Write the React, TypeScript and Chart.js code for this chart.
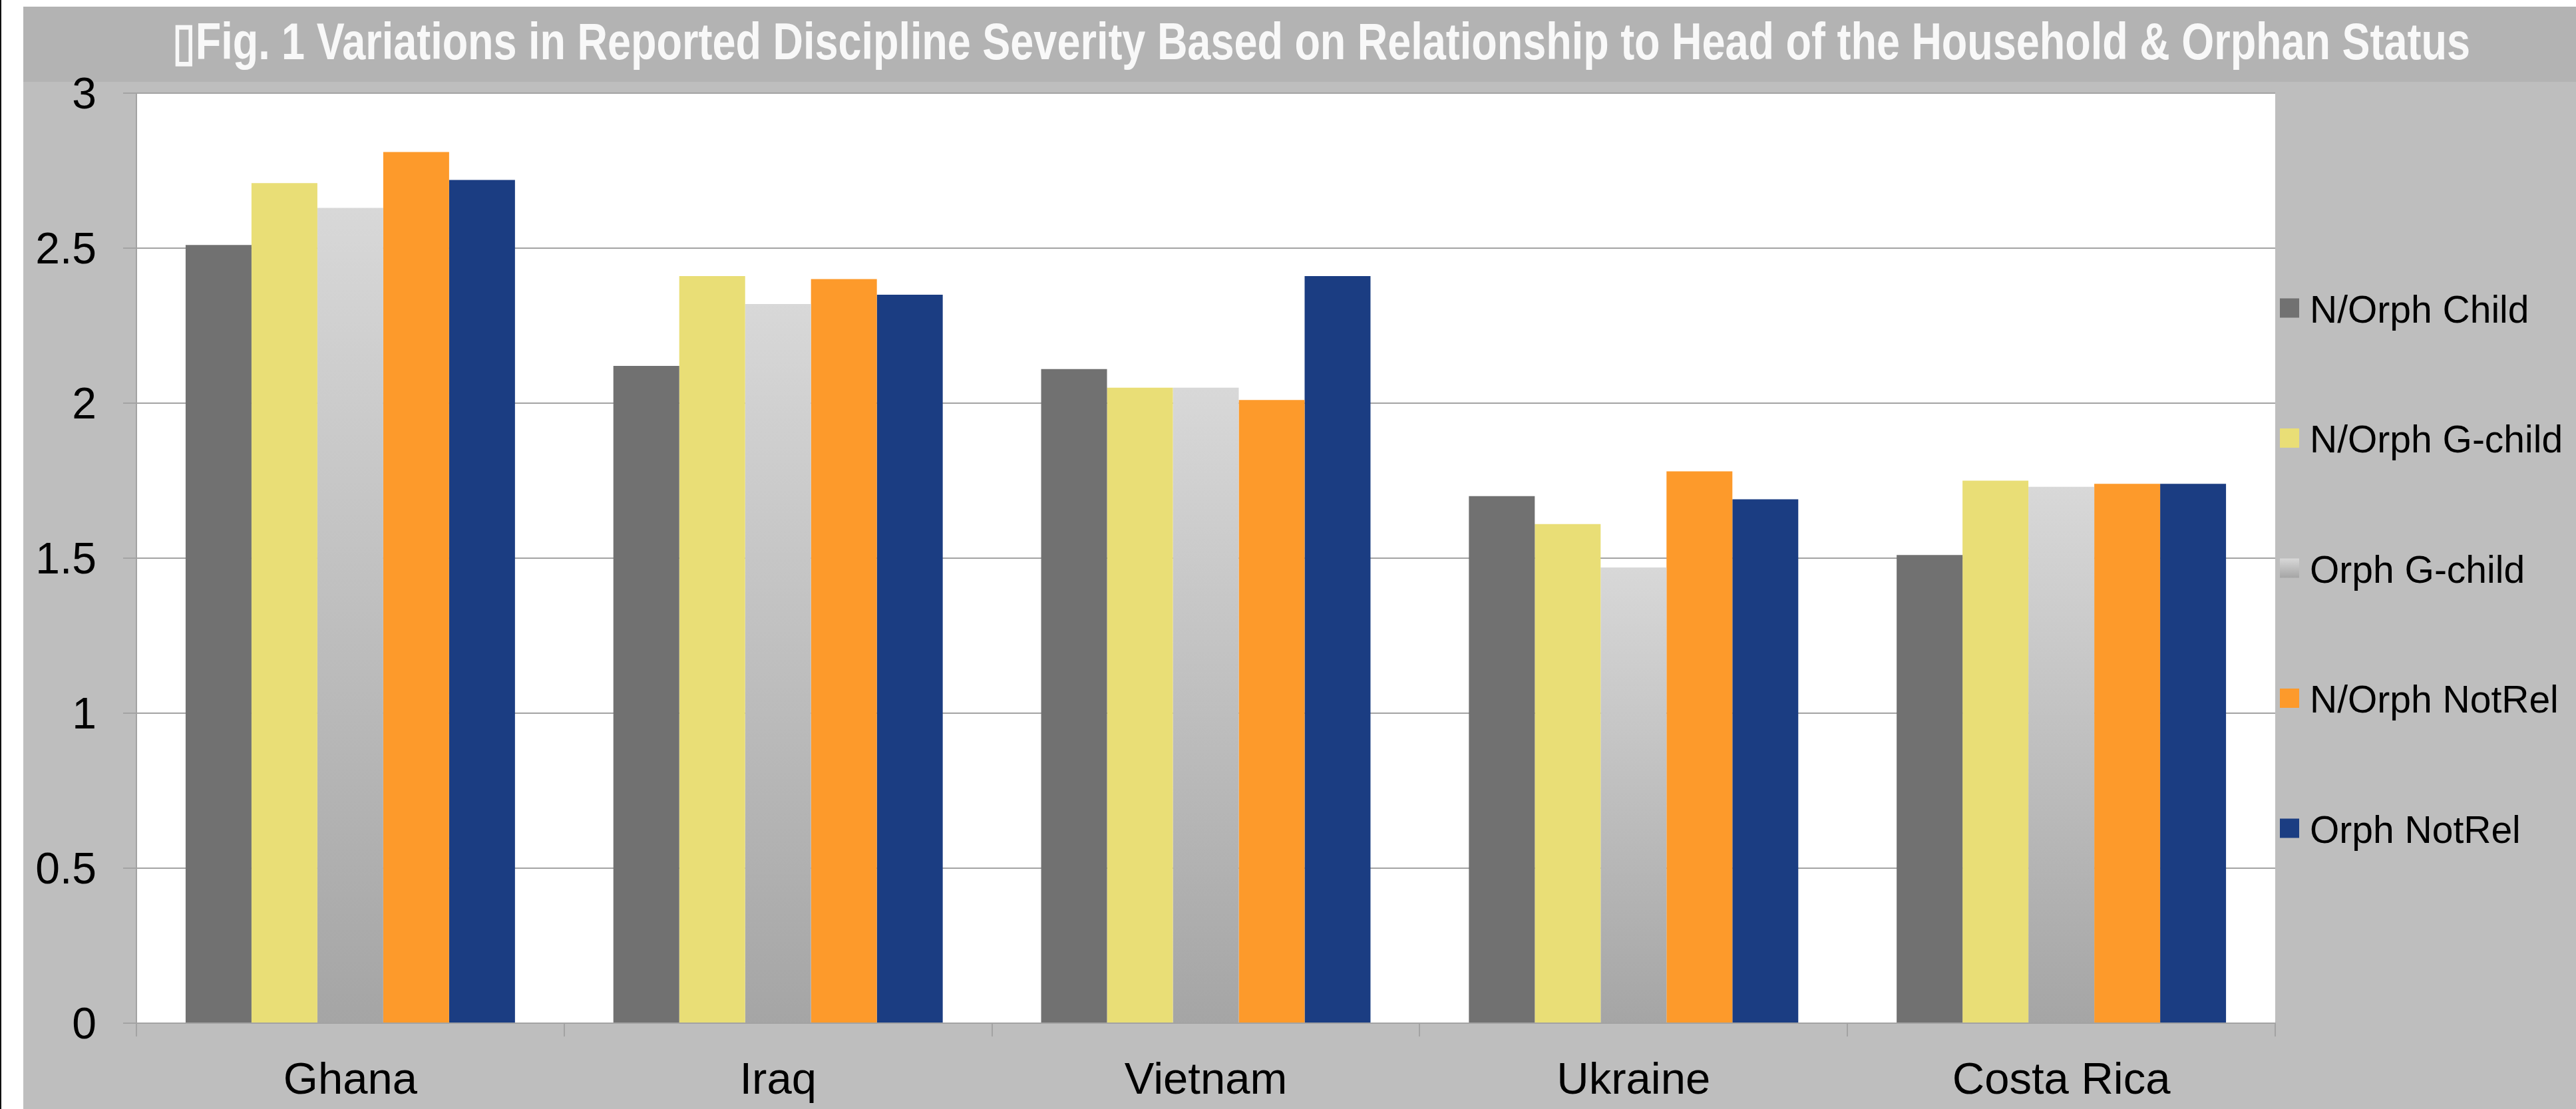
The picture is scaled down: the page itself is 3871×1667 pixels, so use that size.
import React, { useEffect, useRef } from 'react';
import { Chart, registerables } from 'chart.js';

Chart.register(...registerables);

// ---- Data ----
const categories = ['Ghana', 'Iraq', 'Vietnam', 'Ukraine', 'Costa Rica'];
const seriesNames = ['N/Orph Child', 'N/Orph G-child', 'Orph G-child', 'N/Orph NotRel', 'Orph NotRel'];
const nOrphChild = [2.51, 2.12, 2.11, 1.7, 1.51];
const nOrphGChild = [2.71, 2.41, 2.05, 1.61, 1.75];
const orphGChild = [2.63, 2.32, 2.05, 1.47, 1.73];
const nOrphNotRel = [2.81, 2.4, 2.01, 1.78, 1.74];
const orphNotRel = [2.72, 2.35, 2.41, 1.69, 1.74];
const yTickValues = [0, 0.5, 1, 1.5, 2, 2.5, 3];
const titleText =
  '\u25AFFig. 1 Variations in Reported Discipline Severity Based on Relationship to Head of the Household & Orphan Status';

// ---- Styles ----
const FONT = '"Liberation Sans", Arial, Helvetica, sans-serif';
const solidColors = ['#717171', '#e9de76', '', '#fd9a2b', '#1b3d82'];
const gradTop = '#d8d8d8';
const gradBottom = '#a5a5a5';
const gridColor = '#a3a3a3';

const W = 3871;
const H = 1667;

function gradientFill(ctx: any) {
  const chart = ctx.chart;
  if (!chart.chartArea || ctx.type !== 'data') return '#c8c8c8';
  const ys = chart.scales.y;
  const top = ys.getPixelForValue(ctx.raw);
  const bottom = ys.getPixelForValue(0);
  const g = chart.ctx.createLinearGradient(0, top, 0, bottom);
  g.addColorStop(0, gradTop);
  g.addColorStop(1, gradBottom);
  return g;
}

const backgroundPlugin = {
  id: 'bgPanels',
  beforeDraw(chart: any) {
    const { ctx, chartArea } = chart;
    ctx.save();
    ctx.fillStyle = '#ffffff';
    ctx.fillRect(0, 0, W, H);
    ctx.fillStyle = '#111111';
    ctx.fillRect(0, 0, 2, H);
    ctx.fillStyle = '#bebebe';
    ctx.fillRect(35, 123, W - 35, H - 123);
    ctx.fillStyle = '#b3b3b3';
    ctx.fillRect(35, 10, W - 35, 113);
    ctx.fillStyle = '#ffffff';
    ctx.fillRect(chartArea.left, chartArea.top, chartArea.right - chartArea.left, chartArea.bottom - chartArea.top);
    ctx.restore();
  },
};

const titleSpanPlugin = {
  id: 'titleSpan',
  afterLayout(chart: any) {
    const t = chart.titleBlock;
    if (t) {
      t.left = 259;
      t.right = 3712;
      t.width = 3712 - 259;
    }
  },
};

const sideLegendPlugin = {
  id: 'sideLegend',
  afterDraw(chart: any) {
    const { ctx } = chart;
    ctx.save();
    ctx.font = `57px ${FONT}`;
    ctx.textAlign = 'left';
    ctx.textBaseline = 'middle';
    chart.data.datasets.forEach((ds: any, i: number) => {
      const cy = 463 + i * 195.5;
      const bx = 3426;
      const size = 29;
      if (solidColors[i]) {
        ctx.fillStyle = solidColors[i];
      } else {
        const g = ctx.createLinearGradient(0, cy - size / 2, 0, cy + size / 2);
        g.addColorStop(0, gradTop);
        g.addColorStop(1, gradBottom);
        ctx.fillStyle = g;
      }
      ctx.fillRect(bx, cy - size / 2, size, size);
      ctx.fillStyle = '#000000';
      ctx.fillText(ds.label, 3471, cy + 6);
    });
    ctx.restore();
  },
};

export default function App() {
  const ref = useRef<HTMLCanvasElement>(null);

  useEffect(() => {
    const seriesValues = [nOrphChild, nOrphGChild, orphGChild, nOrphNotRel, orphNotRel];
    const chart = new Chart(ref.current as HTMLCanvasElement, {
      type: 'bar',
      data: {
        labels: categories,
        datasets: seriesNames.map((name, i) => ({
          label: name,
          data: seriesValues[i],
          backgroundColor: solidColors[i] ? solidColors[i] : gradientFill,
          borderWidth: 0,
          barPercentage: 1.0,
          categoryPercentage: 0.77,
        })),
      },
      options: {
        responsive: false,
        animation: false,
        devicePixelRatio: 1,
        layout: { padding: { left: 0, right: 452, top: 0, bottom: 0 } },
        plugins: {
          legend: { display: false },
          tooltip: { enabled: false },
          title: {
            display: true,
            text: titleText,
            color: '#f8f8f8',
            align: 'center',
            font: { family: FONT, size: 78, weight: 'bold' },
            padding: { top: 21, bottom: 25.4 },
          },
        },
        scales: {
          x: {
            ticks: {
              color: '#000000',
              font: { family: FONT, size: 67 },
              padding: 27,
              maxRotation: 0,
              autoSkip: false,
            },
            grid: {
              display: true,
              drawOnChartArea: false,
              offset: true,
              color: gridColor,
              lineWidth: 2,
              tickLength: 20,
            },
            border: { color: gridColor, width: 2 },
            afterFit: (s: any) => {
              s.height = H - 1538;
            },
          },
          y: {
            min: 0,
            max: 3,
            afterBuildTicks: (s: any) => {
              s.ticks = yTickValues.map((v) => ({ value: v }));
            },
            ticks: {
              color: '#000000',
              font: { family: FONT, size: 66 },
              padding: 40,
              labelOffset: 5,
              callback: (v: any) => String(Number(v)),
            },
            grid: {
              color: gridColor,
              lineWidth: 2,
              tickLength: 20,
            },
            border: { color: gridColor, width: 2 },
            afterFit: (s: any) => {
              s.width = 205;
            },
          },
        },
      },
      plugins: [backgroundPlugin, titleSpanPlugin, sideLegendPlugin],
    } as any);
    return () => chart.destroy();
  }, []);

  return (
    <div style={{ position: 'absolute', left: 0, top: 0, width: W, height: H }}>
      <canvas ref={ref} width={W} height={H} style={{ display: 'block', width: W, height: H }} />
    </div>
  );
}
